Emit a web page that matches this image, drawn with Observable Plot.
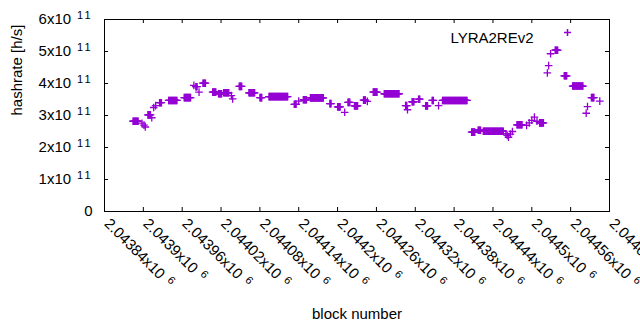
<!DOCTYPE html>
<html>
<head>
<meta charset="utf-8">
<script src="https://cdn.jsdelivr.net/npm/d3@7"></script>
<script src="https://cdn.jsdelivr.net/npm/@observablehq/plot@0.6"></script>
<style>
  html, body { margin: 0; padding: 0; background: #fff; }
  #chart { width: 640px; height: 330px; }
</style>
</head>
<body>
<div id="chart"></div>
<script>
// ---- data (run-length encoded: each run is a stretch of blocks sharing one hashrate estimate) ----
const runStart = [
  2043884, 2043898, 2043901, 2043903, 2043907, 2043913, 2043916, 2043919, 2043925, 2043939,
  2043963, 2043978, 2043981, 2043986, 2043992, 2044007, 2044016, 2044024, 2044036, 2044038,
  2044048, 2044063, 2044080, 2044094, 2044133, 2044140, 2044147, 2044158, 2044188, 2044200,
  2044211, 2044216, 2044226, 2044240, 2044246, 2044255, 2044272, 2044305, 2044308, 2044315,
  2044325, 2044336, 2044346, 2044356, 2044362, 2044407, 2044417, 2044425, 2044460, 2044462,
  2044464, 2044467, 2044470, 2044477, 2044492, 2044496, 2044500, 2044504, 2044508, 2044512,
  2044524, 2044526, 2044529, 2044536, 2044550, 2044563, 2044584, 2044586, 2044592, 2044605
];
const runEnd = [
  2043892, 2043898, 2043901, 2043903, 2043911, 2043913, 2043916, 2043919, 2043928, 2043952,
  2043973, 2043978, 2043983, 2043986, 2043996, 2044012, 2044021, 2044032, 2044036, 2044038,
  2044052, 2044072, 2044083, 2044123, 2044136, 2044140, 2044152, 2044178, 2044190, 2044204,
  2044211, 2044219, 2044231, 2044243, 2044246, 2044261, 2044295, 2044307, 2044308, 2044318,
  2044327, 2044339, 2044348, 2044356, 2044400, 2044412, 2044421, 2044456, 2044460, 2044462,
  2044464, 2044467, 2044470, 2044485, 2044492, 2044496, 2044500, 2044504, 2044508, 2044518,
  2044524, 2044526, 2044529, 2044540, 2044554, 2044579, 2044584, 2044586, 2044596, 2044605
];
const runHashrate = [
  2.82e11, 2.76e11, 2.70e11, 2.64e11, 3.02e11, 2.93e11, 3.25e11, 3.31e11, 3.40e11, 3.47e11,
  3.56e11, 3.94e11, 3.90e11, 3.73e11, 4.01e11, 3.73e11, 3.68e11, 3.71e11, 3.62e11, 3.52e11,
  3.91e11, 3.71e11, 3.56e11, 3.59e11, 3.35e11, 3.45e11, 3.49e11, 3.55e11, 3.37e11, 3.27e11,
  3.10e11, 3.41e11, 3.30e11, 3.48e11, 3.44e11, 3.73e11, 3.68e11, 3.31e11, 3.18e11, 3.43e11,
  3.51e11, 3.30e11, 3.47e11, 3.31e11, 3.47e11, 2.48e11, 2.54e11, 2.51e11, 2.43e11, 2.38e11,
  2.32e11, 2.42e11, 2.50e11, 2.71e11, 2.69e11, 2.77e11, 2.85e11, 2.95e11, 2.82e11, 2.77e11,
  4.33e11, 4.56e11, 4.93e11, 5.04e11, 4.24e11, 3.92e11, 3.07e11, 3.28e11, 3.56e11, 3.45e11
];
const seriesName = "LYRA2REv2";
const xTickValues = [2043840, 2043900, 2043960, 2044020, 2044080, 2044140, 2044200,
                     2044260, 2044320, 2044380, 2044440, 2044500, 2044560, 2044620];
const yTickValues = [0, 1e11, 2e11, 3e11, 4e11, 5e11, 6e11];
const xLabel = "block number";
const yLabel = "hashrate [h/s]";

// expand the runs into one point per block
const points = [];
runStart.forEach((s, i) => {
  for (let b = s; b <= runEnd[i]; b++) points.push({block: b, hashrate: runHashrate[i]});
});

// ---- layout ----
const W = 640, H = 330;
const mL = 104, mR = 31, mT = 19, mB = 119;
const tick = 4;
const frameW = W - mL - mR, frameH = H - mT - mB;
const color = "#9400d3";

// gnuplot-style "+" point
const plusSymbol = {
  draw(ctx, size) {
    const r = Math.sqrt(size / Math.PI);
    ctx.moveTo(-r, 0); ctx.lineTo(r, 0);
    ctx.moveTo(0, -r); ctx.lineTo(0, r);
  }
};

const fmtX = v => (v / 1e6).toString() + "x10^6";
const fmtY = v => v === 0 ? "0" : (v / 1e11) + "x10^11";

const chart = Plot.plot({
  width: W, height: H,
  marginLeft: mL, marginRight: mR, marginTop: mT, marginBottom: mB,
  x: {domain: [xTickValues[0], xTickValues[xTickValues.length - 1]], axis: null},
  y: {domain: [yTickValues[0], yTickValues[yTickValues.length - 1]], axis: null},
  style: {fontFamily: "'Liberation Sans', Arial, sans-serif", fontSize: "15px", background: "#fff", color: "#000"},
  marks: [
    // inward ticks, mirrored on all four sides
    Plot.tickX(xTickValues, {x: d => d, insetTop: frameH - tick, stroke: "#000"}),
    Plot.tickX(xTickValues, {x: d => d, insetBottom: frameH - tick, stroke: "#000"}),
    Plot.tickY(yTickValues, {y: d => d, insetRight: frameW - tick, stroke: "#000"}),
    Plot.tickY(yTickValues, {y: d => d, insetLeft: frameW - tick, stroke: "#000"}),
    Plot.frame({stroke: "#000", strokeWidth: 1}),
    Plot.dot(points, {x: "block", y: "hashrate", symbol: plusSymbol, r: 3.8, stroke: color, fill: "none", strokeWidth: 1.3}),
    // tick labels
    Plot.text(xTickValues, {x: d => d, frameAnchor: "bottom", text: fmtX, rotate: 45, textAnchor: "start", dy: 13, dx: -1, fill: "#000"}),
    Plot.text(yTickValues, {y: d => d, frameAnchor: "left", text: fmtY, textAnchor: "end", dx: -12, fill: "#000"}),
    // axis titles
    Plot.text([yLabel], {text: d => d, frameAnchor: "left", rotate: -90, dx: -87, fill: "#000"}),
    Plot.text([xLabel], {text: d => d, frameAnchor: "bottom", dy: 107, fill: "#000"}),
    // key
    Plot.text([seriesName], {text: d => d, frameAnchor: "top-right", textAnchor: "end", dx: -76, dy: 13, fill: "#000"}),
    Plot.dot([seriesName], {x: null, y: null, frameAnchor: "top-right", dx: -42, dy: 13, symbol: plusSymbol, r: 3.5, stroke: color, fill: "none"})
  ]
});

// superscripts for "x10^n" labels
d3.select(chart).selectAll("text").each(function () {
  const t = this.textContent;
  if (t.includes("^")) {
    const [base, exp] = t.split("^");
    const sel = d3.select(this);
    sel.text(base);
    sel.append("tspan").attr("dx", 6).attr("dy", -5).attr("font-size", 11).attr("letter-spacing", 2).text(exp);
  }
});

document.getElementById("chart").appendChild(chart);
</script>
</body>
</html>
